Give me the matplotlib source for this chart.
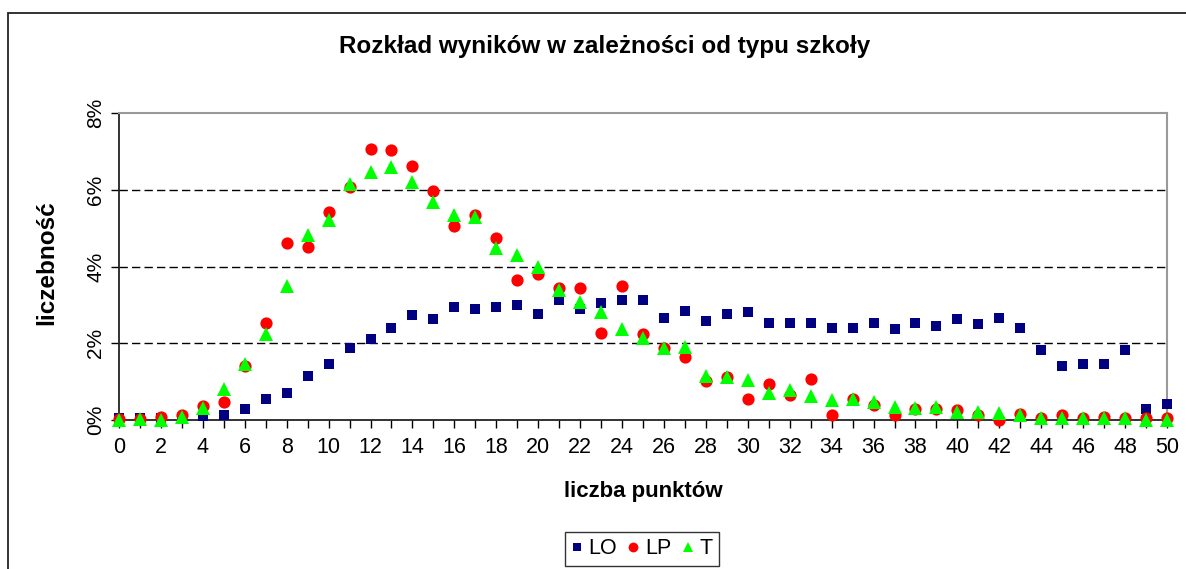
import matplotlib
matplotlib.use("Agg")
import matplotlib.pyplot as plt
import matplotlib.patches as mpatches
from matplotlib.ticker import FuncFormatter

plt.rcParams["font.family"] = ["Liberation Sans", "DejaVu Sans"]

# ── Data (percent of students per point score) ──────────────────────────
points = list(range(0, 51))

lo = [0.05, 0.05, 0.05, 0.05, 0.10, 0.13, 0.29, 0.56, 0.71, 1.15,
      1.47, 1.87, 2.10, 2.40, 2.73, 2.63, 2.95, 2.90, 2.95, 2.99,
      2.76, 3.12, 2.90, 3.04, 3.12, 3.12, 2.67, 2.85, 2.59, 2.76,
      2.82, 2.54, 2.54, 2.54, 2.40, 2.40, 2.54, 2.36, 2.54, 2.45,
      2.63, 2.49, 2.67, 2.40, 1.82, 1.42, 1.47, 1.47, 1.82, 0.29,
      0.42]

lp = [0.03, 0.03, 0.08, 0.13, 0.36, 0.48, 1.41, 2.54, 4.60, 4.51,
      5.42, 6.08, 7.07, 7.03, 6.62, 5.96, 5.06, 5.33, 4.75, 3.66,
      3.80, 3.45, 3.45, 2.27, 3.48, 2.23, 1.87, 1.65, 1.02, 1.11,
      0.56, 0.93, 0.65, 1.07, 0.13, 0.56, 0.38, 0.13, 0.29, 0.29,
      0.25, 0.13, 0.00, 0.16, 0.05, 0.13, 0.05, 0.09, 0.05, 0.05,
      0.05]

t = [0.00, 0.03, 0.00, 0.07, 0.30, 0.81, 1.47, 2.23, 3.49, 4.83,
     5.20, 6.14, 6.46, 6.59, 6.19, 5.69, 5.33, 5.29, 4.48, 4.30,
     3.98, 3.40, 3.08, 2.81, 2.36, 2.14, 1.87, 1.91, 1.15, 1.11,
     1.05, 0.70, 0.78, 0.62, 0.52, 0.56, 0.48, 0.35, 0.30, 0.33,
     0.22, 0.22, 0.17, 0.13, 0.06, 0.06, 0.05, 0.05, 0.05, 0.00,
     0.00]

series = [
    ("LO", lo, "s", "#000080", 7.8),
    ("LP", lp, "o", "#ff0000", 8.8),
    ("T",  t,  "^", "#00ff00", 9.5),
]

W, H = 1186, 569
fig = plt.figure(figsize=(W / 100, H / 100), dpi=100, facecolor="white")
ax = fig.add_axes([119 / W, 1 - 420 / H, (1167 - 119) / W, (420 - 113) / H])

# outer chart frame (runs off the right and bottom edge)
fig.patches.append(mpatches.Rectangle((8 / W, -0.05), 1.1, 1 - 13 / H + 0.05,
                                      transform=fig.transFigure, fill=False,
                                      edgecolor="#222222", linewidth=1.3,
                                      clip_on=False))

for name, vals, mk, col, ms in series:
    ax.plot(points, vals, linestyle="none", marker=mk, color=col,
            markersize=ms, markeredgewidth=0,
            label=name, clip_on=False, zorder=3)

ax.set_xlim(0, 50)
ax.set_ylim(0, 8)

ax.set_xticks(points)
ax.set_xticklabels([str(p) if p % 2 == 0 else "" for p in points])
ax.set_yticks([0, 2, 4, 6, 8])
ax.yaxis.set_major_formatter(FuncFormatter(lambda v, _: f"{v:.0f}%"))
ax.tick_params(axis="x", direction="out", length=6, width=1, labelsize=15.5,
               pad=6, colors="black")
ax.tick_params(axis="y", direction="out", length=6, width=1, labelsize=15,
               pad=4, colors="black")
plt.setp(ax.get_yticklabels(), rotation=90, va="center")

for y in [2, 4, 6]:
    ax.axhline(y, color="black", linewidth=1, linestyle=(0, (6, 3)), zorder=1)

ax.spines["left"].set_color("#222222")
ax.spines["bottom"].set_color("#222222")
ax.spines["left"].set_linewidth(1.3)
ax.spines["bottom"].set_linewidth(1.3)
ax.spines["top"].set_color("#999999")
ax.spines["right"].set_color("#999999")
ax.spines["top"].set_linewidth(1.5)
ax.spines["right"].set_linewidth(1.5)

fig.text(605 / W, 1 - 47 / H, "Rozkład wyników w zależności od typu szkoły",
         ha="center", va="center", fontsize=17.5, fontweight="bold")
fig.text(643 / W, 1 - 491 / H, "liczba punktów", ha="center", va="center",
         fontsize=16, fontweight="bold")
fig.text(47 / W, 1 - 263 / H, "liczebność", ha="center", va="center",
         rotation=90, fontsize=17.5, fontweight="bold")

leg = fig.legend(loc="upper center", bbox_to_anchor=(642 / W, 1 - 532 / H),
                 ncol=3, fontsize=15.5, frameon=True, fancybox=False,
                 handlelength=0.5, handletextpad=0.3, columnspacing=0.5,
                 borderpad=0.3, borderaxespad=0, markerscale=0.8)
leg.get_frame().set_edgecolor("black")
leg.get_frame().set_linewidth(1)

fig.savefig("out.png", dpi=100, facecolor="white")
